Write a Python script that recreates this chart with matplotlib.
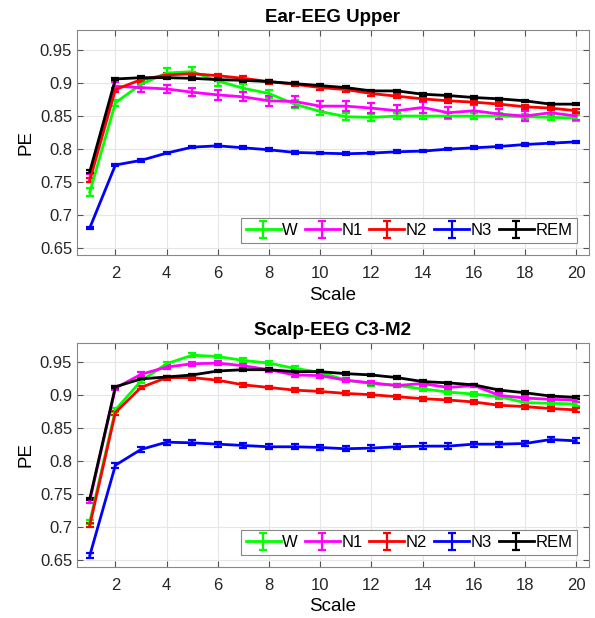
import numpy as np
import matplotlib
matplotlib.use('Agg')
import matplotlib.pyplot as plt
from matplotlib.ticker import FormatStrFormatter

plt.rcParams['font.family'] = ['Liberation Sans', 'DejaVu Sans']

scales = np.arange(1, 21)
stages = ['W', 'N1', 'N2', 'N3', 'REM']
colors = ['#00ff00', '#ff00ff', '#ff0000', '#0000ff', '#000000']

# Ear-EEG Upper: mean PE per scale
ear_w = [0.735, 0.870, 0.898, 0.915, 0.917, 0.903, 0.892, 0.884, 0.868, 0.857,
         0.849, 0.848, 0.850, 0.850, 0.850, 0.850, 0.850, 0.849, 0.848, 0.847]
ear_n1 = [0.756, 0.895, 0.893, 0.891, 0.886, 0.882, 0.879, 0.873, 0.872, 0.865,
          0.865, 0.862, 0.858, 0.863, 0.855, 0.858, 0.853, 0.850, 0.855, 0.850]
ear_n2 = [0.753, 0.890, 0.905, 0.912, 0.914, 0.911, 0.907, 0.902, 0.898, 0.893,
          0.890, 0.884, 0.880, 0.876, 0.873, 0.871, 0.868, 0.864, 0.862, 0.858]
ear_n3 = [0.681, 0.776, 0.783, 0.794, 0.803, 0.805, 0.802, 0.799, 0.795, 0.794,
          0.793, 0.794, 0.796, 0.797, 0.800, 0.802, 0.804, 0.807, 0.809, 0.811]
ear_rem = [0.766, 0.906, 0.908, 0.908, 0.907, 0.905, 0.904, 0.902, 0.899, 0.896,
           0.893, 0.888, 0.888, 0.883, 0.881, 0.878, 0.876, 0.873, 0.868, 0.868]

# Ear-EEG Upper: error bar half-widths
ear_w_err = [0.006, 0.005, 0.006, 0.007, 0.007, 0.007, 0.006, 0.006, 0.006, 0.006,
             0.005, 0.005, 0.005, 0.005, 0.004, 0.004, 0.004, 0.004, 0.004, 0.004]
ear_n1_err = [0.006, 0.007, 0.006, 0.006, 0.006, 0.007, 0.007, 0.008, 0.008, 0.008,
              0.008, 0.008, 0.008, 0.008, 0.008, 0.008, 0.007, 0.007, 0.006, 0.006]
ear_n2_err = [0.003] * 20
ear_n3_err = [0.002] * 20
ear_rem_err = [0.002] * 20

# Scalp-EEG C3-M2: mean PE per scale
scalp_w = [0.708, 0.878, 0.922, 0.948, 0.961, 0.959, 0.953, 0.949, 0.941, 0.935,
           0.923, 0.918, 0.915, 0.910, 0.905, 0.902, 0.898, 0.889, 0.888, 0.887]
scalp_n1 = [0.740, 0.911, 0.932, 0.943, 0.948, 0.949, 0.945, 0.939, 0.931, 0.930,
            0.923, 0.919, 0.915, 0.918, 0.912, 0.915, 0.900, 0.896, 0.894, 0.893]
scalp_n2 = [0.703, 0.874, 0.912, 0.927, 0.927, 0.923, 0.916, 0.912, 0.908, 0.906,
            0.903, 0.901, 0.898, 0.895, 0.893, 0.890, 0.885, 0.883, 0.880, 0.878]
scalp_n3 = [0.657, 0.794, 0.818, 0.829, 0.828, 0.826, 0.824, 0.822, 0.822, 0.821,
            0.819, 0.820, 0.822, 0.823, 0.823, 0.826, 0.826, 0.827, 0.833, 0.831]
scalp_rem = [0.743, 0.913, 0.925, 0.928, 0.931, 0.937, 0.939, 0.939, 0.936, 0.936,
             0.933, 0.931, 0.927, 0.921, 0.919, 0.916, 0.908, 0.904, 0.899, 0.897]

# Scalp-EEG C3-M2: error bar half-widths
scalp_w_err = [0.003] * 20
scalp_n1_err = [0.003] * 20
scalp_n2_err = [0.003] * 20
scalp_n3_err = [0.004] * 20
scalp_rem_err = [0.002] * 20

panels = [
    ('Ear-EEG Upper',
     [ear_w, ear_n1, ear_n2, ear_n3, ear_rem],
     [ear_w_err, ear_n1_err, ear_n2_err, ear_n3_err, ear_rem_err]),
    ('Scalp-EEG C3-M2',
     [scalp_w, scalp_n1, scalp_n2, scalp_n3, scalp_rem],
     [scalp_w_err, scalp_n1_err, scalp_n2_err, scalp_n3_err, scalp_rem_err]),
]

fig = plt.figure(figsize=(5.95, 6.18), dpi=100)
rects = [[0.1294, 0.5874, 0.8605, 0.364],
         [0.1294, 0.0830, 0.8605, 0.3625]]

for rect, (title, means, errs) in zip(rects, panels):
    ax = fig.add_axes(rect)
    handles = []
    for label, m, e, c in zip(stages, means, errs, colors):
        h = ax.errorbar(scales, m, yerr=e, color=c, linewidth=2,
                        elinewidth=1.6, capsize=3, capthick=1.6, label=label)
        handles.append(h)

    ax.set_xlim(0.5, 20.5)
    ax.set_ylim(0.64, 0.98)
    ax.set_xticks(np.arange(2, 21, 2))
    ax.set_yticks(np.arange(0.65, 0.951, 0.05))
    ax.yaxis.set_major_formatter(FormatStrFormatter('%g'))
    ax.tick_params(direction='in', top=True, right=True, labelsize=12,
                   length=4, color='#555555', labelcolor='#262626')
    ax.tick_params(axis='x', pad=8)
    for s in ax.spines.values():
        s.set_color('#888888')
        s.set_linewidth(0.8)
    ax.grid(True, color='#e6e6e6', linewidth=0.8)
    ax.set_axisbelow(True)

    ax.set_title(title, fontsize=13.5, fontweight='bold', pad=5.5)
    ax.set_xlabel('Scale', fontsize=13.5, labelpad=4)
    ax.set_ylabel('PE', fontsize=13.5, labelpad=4)

    leg = ax.legend(handles=handles, loc='lower right', ncol=5, fontsize=12,
                    handlelength=2.1, handletextpad=0.1, columnspacing=0.4,
                    borderpad=0.3, borderaxespad=0.7, fancybox=False,
                    framealpha=1, edgecolor='#888888')
    leg.get_frame().set_linewidth(0.8)

fig.savefig('out.png', dpi=100)
